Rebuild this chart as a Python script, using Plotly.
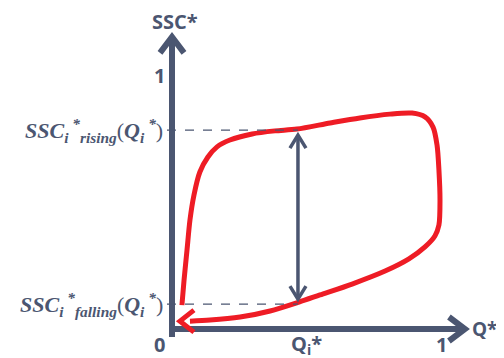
import plotly.graph_objects as go

# hysteresis loop (normalised Q*, SSC*), clockwise
q_curve = [0.037, 0.045, 0.056, 0.067, 0.082, 0.104, 0.134, 0.168, 0.216, 0.299, 0.384, 0.466,
           0.590, 0.701, 0.813, 0.896, 0.944, 0.974, 0.989, 0.996, 1.000, 0.996, 0.981, 0.944,
           0.884, 0.795, 0.672, 0.552, 0.474, 0.366, 0.254, 0.142, 0.067]
ssc_curve = [0.094, 0.193, 0.311, 0.429, 0.528, 0.618, 0.677, 0.717, 0.744, 0.768, 0.780, 0.787,
             0.811, 0.831, 0.846, 0.850, 0.835, 0.795, 0.724, 0.626, 0.508, 0.409, 0.366, 0.323,
             0.276, 0.228, 0.177, 0.134, 0.106, 0.071, 0.047, 0.035, 0.031]
q_i = 0.470
ssc_rising = 0.783
ssc_falling = 0.098

# page puts the figure 8px in from the top-left corner
OFF = 8
W, H = 504 - OFF, 358 - OFF
x_range = [(OFF - 172) / 268, (504 - 172) / 268]
y_range = [(329 - 358) / 254, (329 - OFF) / 254]
sx = W / (x_range[1] - x_range[0])   # px per unit
sy = H / (y_range[1] - y_range[0])

AX = '#4b5671'
RED = '#ee1c25'


def chevron(xt, yt, direction, back, half):
    # open arrow head, back/half in px
    if direction == 'up':
        pts = [(xt - half / sx, yt - back / sy), (xt, yt), (xt + half / sx, yt - back / sy)]
    elif direction == 'down':
        pts = [(xt - half / sx, yt + back / sy), (xt, yt), (xt + half / sx, yt + back / sy)]
    elif direction == 'right':
        pts = [(xt - back / sx, yt + half / sy), (xt, yt), (xt - back / sx, yt - half / sy)]
    else:
        pts = [(xt + back / sx, yt + half / sy), (xt, yt), (xt + back / sx, yt - half / sy)]
    return 'M {} {} L {} {} L {} {}'.format(*[v for p in pts for v in p])


fig = go.Figure()

# loop
fig.add_trace(go.Scatter(x=q_curve, y=ssc_curve, mode='lines',
                         line=dict(color=RED, width=5, shape='spline', smoothing=0.8),
                         hoverinfo='skip', showlegend=False))

y_top = 1.15
x_end = 1.093
shapes = []
# axes
shapes.append(dict(type='line', x0=0, y0=-8 / sy, x1=0, y1=y_top, line=dict(color=AX, width=6)))
shapes.append(dict(type='line', x0=-3 / sx, y0=0, x1=x_end, y1=0, line=dict(color=AX, width=6)))
shapes.append(dict(type='path', path=chevron(0, y_top, 'up', 16, 12), line=dict(color=AX, width=6)))
shapes.append(dict(type='path', path=chevron(x_end, 0, 'right', 16, 12), line=dict(color=AX, width=6)))
# dashed guides
for yv in [ssc_rising, ssc_falling]:
    shapes.append(dict(type='line', x0=-5 / sx, y0=yv, x1=q_i, y1=yv,
                       line=dict(color=AX, width=1.2, dash='dash')))
# double arrow
a_top = ssc_rising - 5 / sy
a_bot = ssc_falling + 5 / sy
shapes.append(dict(type='line', x0=q_i, y0=a_bot, x1=q_i, y1=a_top, line=dict(color=AX, width=3.5)))
shapes.append(dict(type='path', path=chevron(q_i, a_top, 'up', 13, 8), line=dict(color=AX, width=3.5)))
shapes.append(dict(type='path', path=chevron(q_i, a_bot, 'down', 13, 8), line=dict(color=AX, width=3.5)))
# red arrow head at end of loop
shapes.append(dict(type='path', path=chevron(q_curve[-1] - 10 / sx, ssc_curve[-1], 'left', 14, 11),
                   line=dict(color=RED, width=5)))
for s in shapes:
    s.update(xref='x', yref='y', layer='above')
fig.update_layout(shapes=shapes)

bold = dict(family='Open Sans', size=20, color=AX)
lab = dict(family='Liberation Serif', size=22, color=AX)


def ssc_label(kind):
    return ('<b><i>SSC<sub>i</sub><sup> *</sup><sub>' + kind + '</sub></i></b>(<b><i>Q<sub>i</sub>'
            '<sup> *</sup></i></b>)')


ann = [
    dict(x=0.011, y=1.209, text='<b>SSC*</b>', font=bold),
    dict(x=-0.045, y=1.0, text='<b>1</b>', font=bold),
    dict(x=-0.045, y=-0.062, text='<b>0</b>', font=bold),
    dict(x=0.50, y=-0.062, text='<b>Q<sub>i</sub>*</b>', font=bold),
    dict(x=1.007, y=-0.062, text='<b>1</b>', font=bold),
    dict(x=1.165, y=0.0, text='<b>Q*</b>', font=dict(family='Open Sans', size=19, color=AX)),
    dict(x=-0.026, y=ssc_rising, xanchor='right', text=ssc_label('rising'), font=lab),
    dict(x=-0.026, y=ssc_falling, xanchor='right', text=ssc_label('falling'), font=lab),
]
for a in ann:
    a.update(xref='x', yref='y', showarrow=False)
    a.setdefault('xanchor', 'center')
    a.setdefault('yanchor', 'middle')

fig.update_layout(
    width=W, height=H,
    margin=dict(l=0, r=0, t=0, b=0),
    paper_bgcolor='white', plot_bgcolor='white',
    xaxis=dict(range=x_range, visible=False, fixedrange=True),
    yaxis=dict(range=y_range, visible=False, fixedrange=True),
    annotations=ann,
)

fig.write_html("out.html")
